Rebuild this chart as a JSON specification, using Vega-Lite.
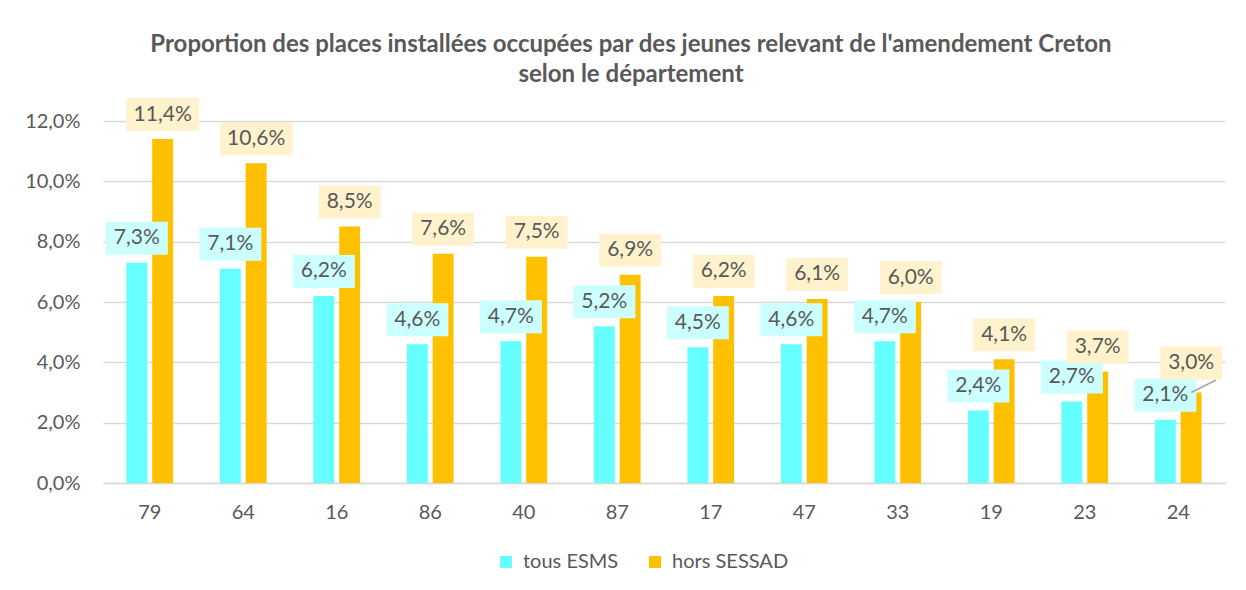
{
  "$schema": "https://vega.github.io/schema/vega-lite/v6.json",
  "width": 1122,
  "height": 362,
  "autosize": "none",
  "padding": {"left": 103, "top": 121, "right": 21, "bottom": 107},
  "background": "white",
  "config": {
    "locale": {"number": {"decimal": ",", "thousands": " ", "grouping": [3], "currency": ["", " €"]}},
    "view": {"stroke": null},
    "font": "Lato",
    "axis": {"labelFont": "Lato", "labelFontSize": 20, "labelColor": "#595959"},
    "legend": {"labelFont": "Lato", "labelFontSize": 20, "labelColor": "#595959"}
  },
  "title": {
    "text": ["Proportion  des places installées occupées par des jeunes relevant de l'amendement Creton", "selon le département"],
    "fontSize": 24,
    "font": "Lato",
    "fontWeight": "bold",
    "color": "#595959",
    "lineHeight": 30,
    "offset": 11,
    "dx": -33,
    "anchor": "middle"
  },
  "data": {
    "values": [
      {"dept": "79", "series": "tous ESMS", "value": 0.073},
      {"dept": "79", "series": "hors SESSAD", "value": 0.114},
      {"dept": "64", "series": "tous ESMS", "value": 0.071},
      {"dept": "64", "series": "hors SESSAD", "value": 0.106},
      {"dept": "16", "series": "tous ESMS", "value": 0.062},
      {"dept": "16", "series": "hors SESSAD", "value": 0.085},
      {"dept": "86", "series": "tous ESMS", "value": 0.046},
      {"dept": "86", "series": "hors SESSAD", "value": 0.076},
      {"dept": "40", "series": "tous ESMS", "value": 0.047},
      {"dept": "40", "series": "hors SESSAD", "value": 0.075},
      {"dept": "87", "series": "tous ESMS", "value": 0.052},
      {"dept": "87", "series": "hors SESSAD", "value": 0.069},
      {"dept": "17", "series": "tous ESMS", "value": 0.045},
      {"dept": "17", "series": "hors SESSAD", "value": 0.062},
      {"dept": "47", "series": "tous ESMS", "value": 0.046},
      {"dept": "47", "series": "hors SESSAD", "value": 0.061},
      {"dept": "33", "series": "tous ESMS", "value": 0.047},
      {"dept": "33", "series": "hors SESSAD", "value": 0.060},
      {"dept": "19", "series": "tous ESMS", "value": 0.024},
      {"dept": "19", "series": "hors SESSAD", "value": 0.041},
      {"dept": "23", "series": "tous ESMS", "value": 0.027},
      {"dept": "23", "series": "hors SESSAD", "value": 0.037},
      {"dept": "24", "series": "tous ESMS", "value": 0.021},
      {"dept": "24", "series": "hors SESSAD", "value": 0.030}
    ]
  },
  "encoding": {
    "x": {
      "field": "dept", "type": "nominal",
      "sort": ["79", "64", "16", "86", "40", "87", "17", "47", "33", "19", "23", "24"],
      "scale": {"paddingInner": 0.5, "paddingOuter": 0.25},
      "axis": {"title": null, "labelAngle": 0, "ticks": false, "domain": true, "domainColor": "#D9D9D9", "domainWidth": 1.5, "labelPadding": 19}
    },
    "xOffset": {
      "field": "series", "type": "nominal",
      "sort": ["tous ESMS", "hors SESSAD"],
      "scale": {"paddingInner": 0.19, "paddingOuter": 0}
    },
    "y": {
      "field": "value", "type": "quantitative",
      "scale": {"domain": [0, 0.12], "nice": false},
      "axis": {"title": null, "format": ".1%", "values": [0, 0.02, 0.04, 0.06, 0.08, 0.1, 0.12], "ticks": false, "domain": false, "gridColor": "#D9D9D9", "gridWidth": 1.5, "labelPadding": 23}
    }
  },
  "layer": [
    {
      "mark": {"type": "bar"},
      "encoding": {
        "color": {
          "field": "series", "type": "nominal",
          "scale": {"domain": ["tous ESMS", "hors SESSAD"], "range": ["#66FFFF", "#FFC000"]},
          "legend": {"title": null, "orient": "none", "legendX": 393, "legendY": 431, "direction": "horizontal", "symbolType": "square", "symbolSize": 144, "symbolStrokeWidth": 0, "labelOffset": 7, "columnPadding": 26}
        }
      }
    },
    {
      "transform": [{"filter": "!(datum.dept === '24' && datum.series === 'hors SESSAD')"}],
      "mark": {"type": "point", "filled": true, "opacity": 1, "strokeWidth": 0, "size": 5329, "yOffset": -24.5},
      "encoding": {
        "shape": {"condition": {"test": "datum.value >= 0.1", "value": "M-1,-0.452H1V0.452H-1Z"}, "value": "M-0.849,-0.452H0.849V0.452H-0.849Z"},
        "fill": {"condition": {"test": "datum.series === 'tous ESMS'", "value": "#CCFFFF"}, "value": "#FFF2CC"}
      }
    },
    {
      "transform": [{"filter": "!(datum.dept === '24' && datum.series === 'hors SESSAD')"}],
      "mark": {"type": "text", "fontSize": 21, "font": "Lato", "color": "#595959", "baseline": "middle", "align": "center", "yOffset": -24.5},
      "encoding": {"text": {"field": "value", "type": "quantitative", "format": ".1%"}}
    },
    {
      "transform": [{"filter": "datum.dept === '24' && datum.series === 'hors SESSAD'"}],
      "mark": {"type": "point", "filled": false, "opacity": 1, "stroke": "#A6A6A6", "strokeWidth": 1.5, "size": 2500, "shape": "M0,0L1,-0.5", "xOffset": 2.5},
      "encoding": {}
    },
    {
      "transform": [{"filter": "datum.dept === '24' && datum.series === 'hors SESSAD'"}],
      "mark": {"type": "point", "filled": true, "opacity": 1, "strokeWidth": 0, "size": 5329, "shape": "M-0.849,-0.452H0.849V0.452H-0.849Z", "fill": "#FFF2CC", "xOffset": 23.5, "yOffset": -29.5},
      "encoding": {}
    },
    {
      "transform": [{"filter": "datum.dept === '24' && datum.series === 'hors SESSAD'"}],
      "mark": {"type": "text", "fontSize": 21, "font": "Lato", "color": "#595959", "baseline": "middle", "align": "center", "xOffset": 23.5, "yOffset": -29.5},
      "encoding": {"text": {"field": "value", "type": "quantitative", "format": ".1%"}}
    }
  ]
}
